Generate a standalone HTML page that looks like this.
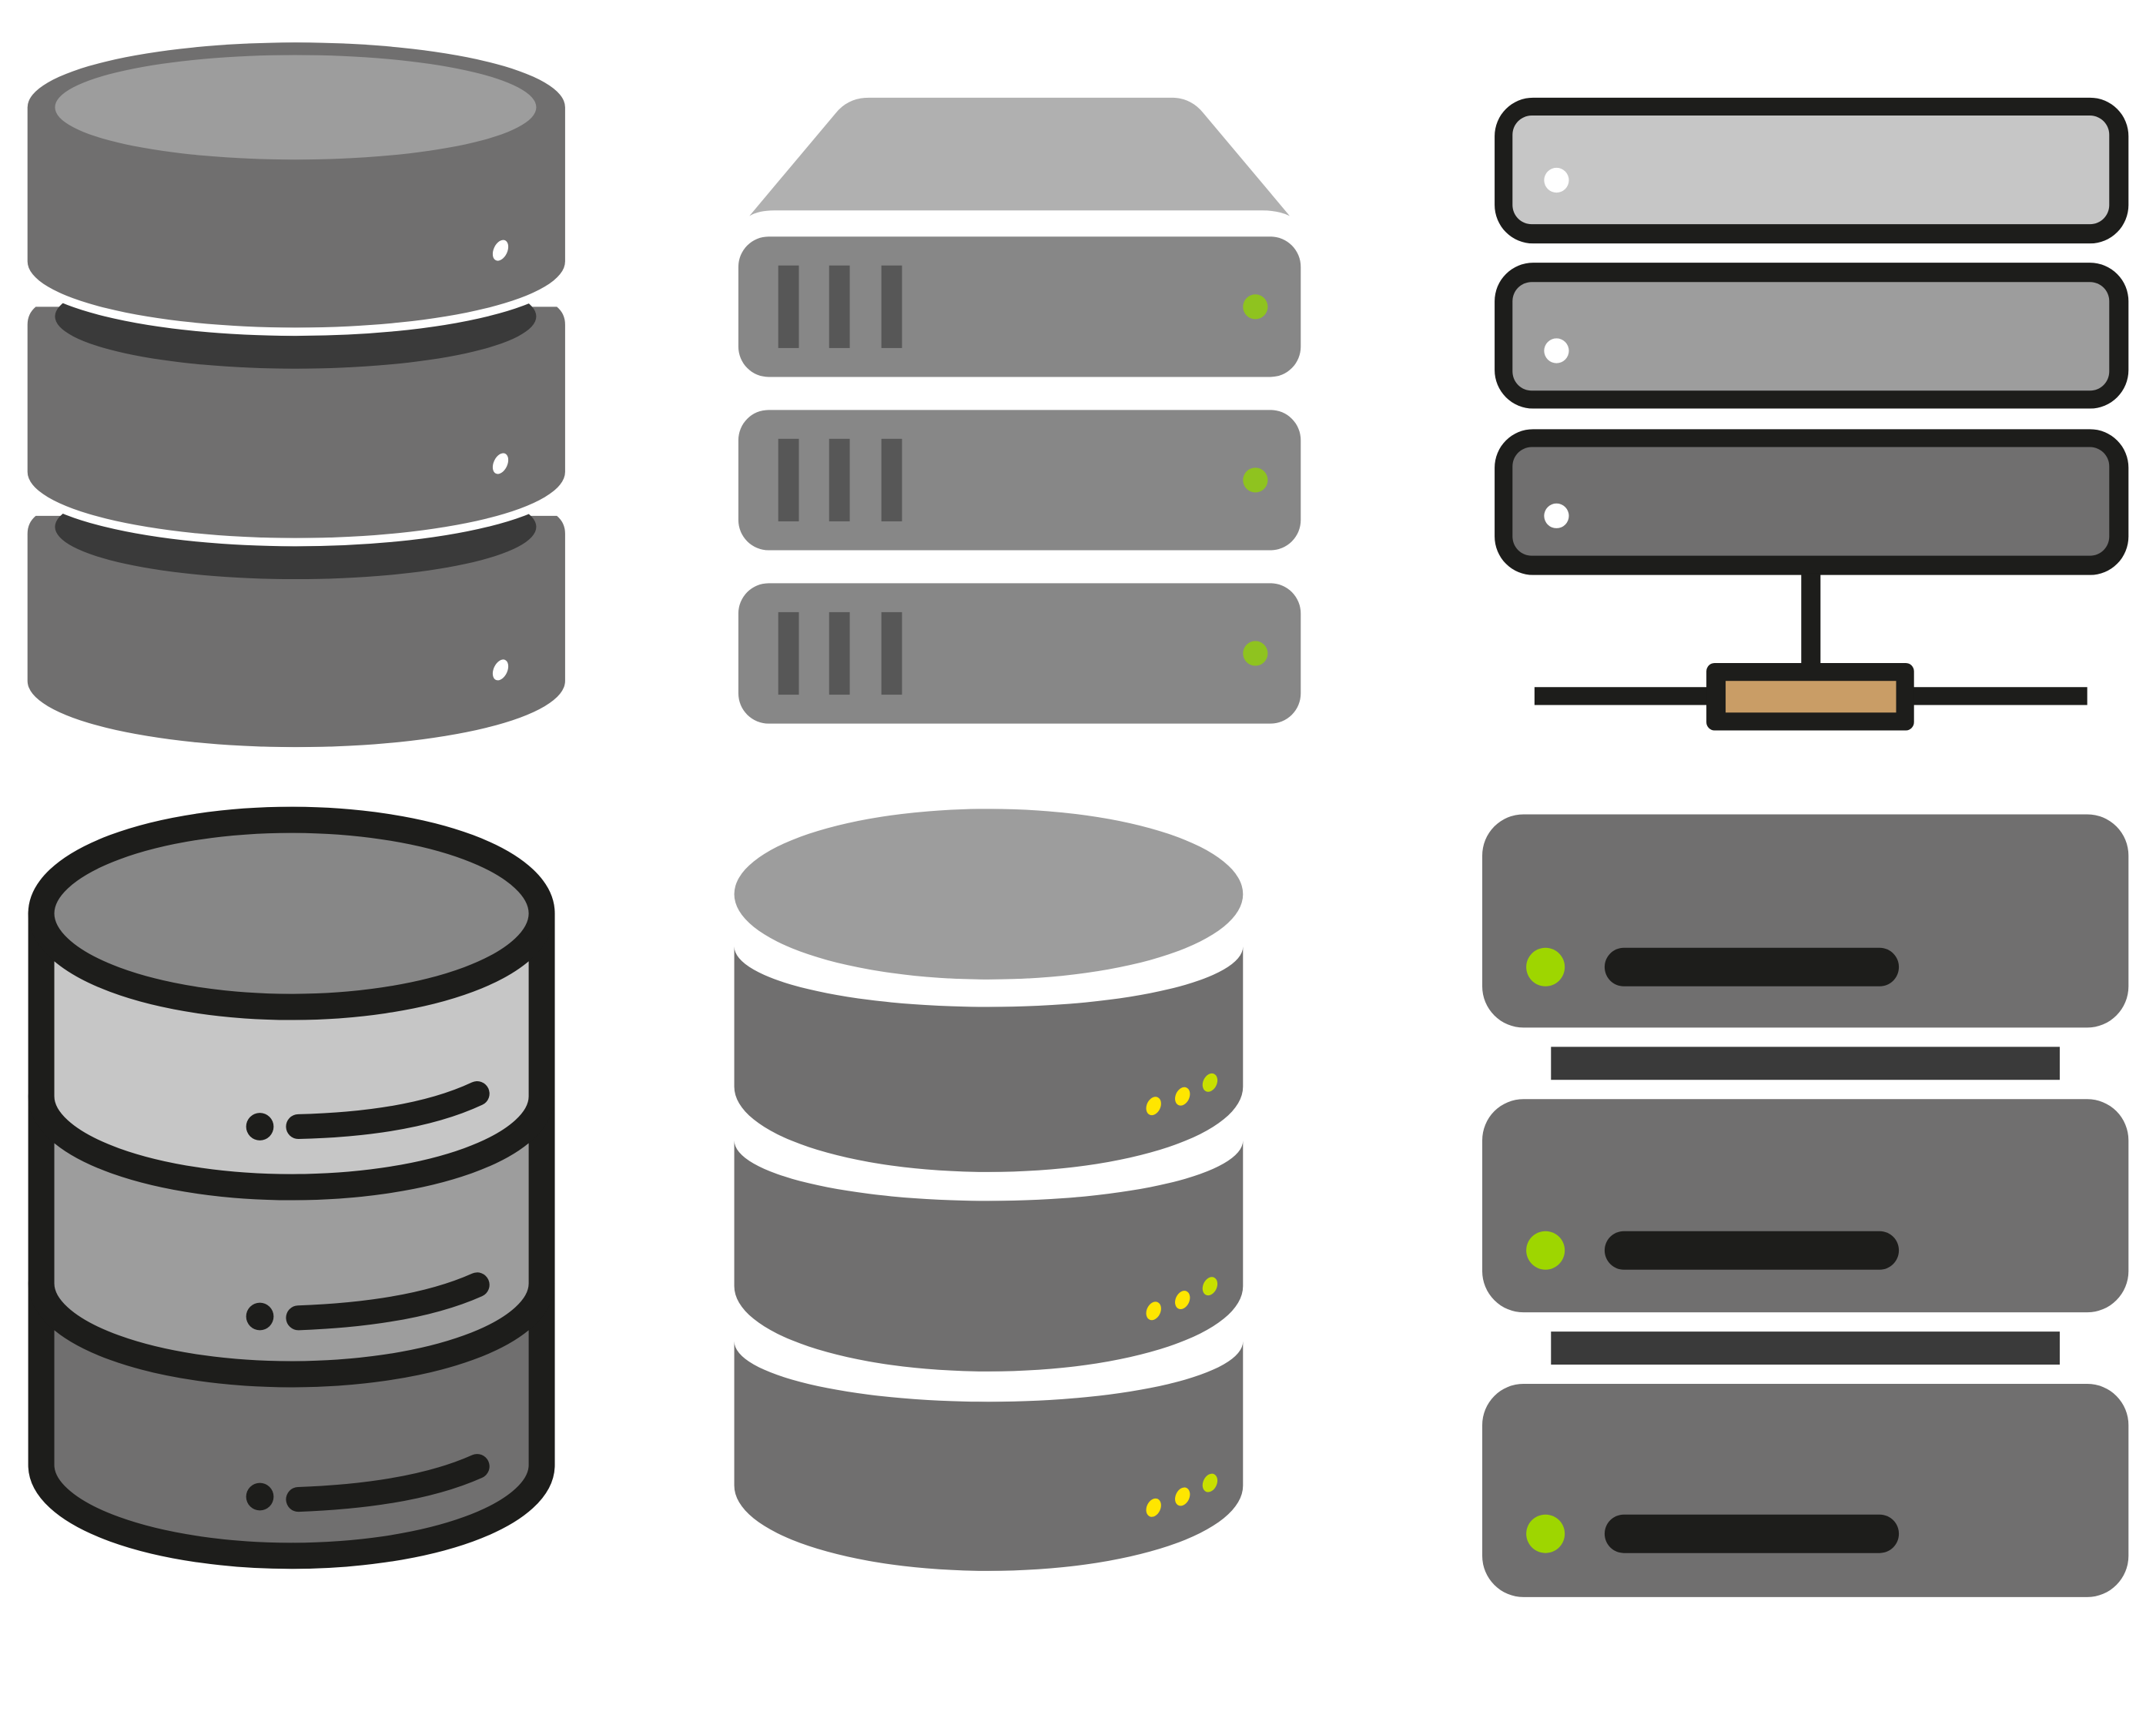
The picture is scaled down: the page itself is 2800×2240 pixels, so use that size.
<!DOCTYPE html>
<html><head><meta charset="utf-8"><style>
html,body{margin:0;padding:0;background:#fff;}
svg{display:block;}
</style></head><body>
<svg width="2800" height="2240" viewBox="0 0 1568 1254" preserveAspectRatio="none" xmlns="http://www.w3.org/2000/svg">
<rect width="1568" height="1254" fill="#fff"/>
<!-- Top-left stacked DB -->
<path d="M20,388 Q20,380 26,375 L405,375 Q411,380 411,388 L411,495 A195,48 0 0 1 20,495 Z" fill="#706f6f"/>
<ellipse cx="215" cy="383" rx="175" ry="38" fill="#3a3a3a"/>
<path d="M20,236 Q20,228 26,223 L405,223 Q411,228 411,236 L411,343 A195,48 0 0 1 20,343 Z" fill="#706f6f" stroke="#fff" stroke-width="12" paint-order="stroke"/>
<ellipse cx="215" cy="230" rx="175" ry="38" fill="#3a3a3a"/>
<path d="M20,78 L20,190 A195,48 0 0 0 411,190 L411,78 A195,47 0 0 0 20,78 Z" fill="#706f6f" stroke="#fff" stroke-width="12" paint-order="stroke"/>
<ellipse cx="215" cy="78" rx="175" ry="38" fill="#9d9d9d"/>
<g fill="#fff">
  <ellipse cx="364" cy="182" rx="5" ry="8" transform="rotate(25 364 182)"/>
  <ellipse cx="364" cy="337" rx="5" ry="8" transform="rotate(25 364 337)"/>
  <ellipse cx="364" cy="487" rx="5" ry="8" transform="rotate(25 364 487)"/>
</g>
<!-- Top-middle rack -->
<path d="M545,157 L608,82 Q617,71 632,71 L852,71 Q866,71 875,82 L938,157 Q930,153 918,153 L563,153 Q552,153 545,157 Z" fill="#b0b0b0"/>
<g>
  <rect x="537" y="172" width="409" height="102" rx="22" fill="#878787"/>
  <rect x="566" y="193" width="15" height="60" fill="#575757"/><rect x="603" y="193" width="15" height="60" fill="#575757"/><rect x="641" y="193" width="15" height="60" fill="#575757"/>
  <circle cx="913" cy="223" r="9" fill="#8fc31f"/>
  <rect x="537" y="298" width="409" height="102" rx="22" fill="#878787"/>
  <rect x="566" y="319" width="15" height="60" fill="#575757"/><rect x="603" y="319" width="15" height="60" fill="#575757"/><rect x="641" y="319" width="15" height="60" fill="#575757"/>
  <circle cx="913" cy="349" r="9" fill="#8fc31f"/>
  <rect x="537" y="424" width="409" height="102" rx="22" fill="#878787"/>
  <rect x="566" y="445" width="15" height="60" fill="#575757"/><rect x="603" y="445" width="15" height="60" fill="#575757"/><rect x="641" y="445" width="15" height="60" fill="#575757"/>
  <circle cx="913" cy="475" r="9" fill="#8fc31f"/>
</g>
<!-- Top-right networked servers -->
<rect x="1087" y="71" width="461" height="106" rx="28" fill="#1d1d1b"/>
<rect x="1100" y="84" width="434" height="79" rx="14" fill="#c6c6c6"/>
<rect x="1087" y="191" width="461" height="106" rx="28" fill="#1d1d1b"/>
<rect x="1100" y="205" width="434" height="79" rx="14" fill="#9d9d9d"/>
<rect x="1087" y="312" width="461" height="106" rx="28" fill="#1d1d1b"/>
<rect x="1100" y="325" width="434" height="79" rx="14" fill="#706f6f"/>
<circle cx="1132" cy="131" r="9" fill="#fff"/>
<circle cx="1132" cy="255" r="9" fill="#fff"/>
<circle cx="1132" cy="375" r="9" fill="#fff"/>
<line x1="1317" y1="417" x2="1317" y2="485" stroke="#1d1d1b" stroke-width="14"/>
<line x1="1116" y1="506" x2="1518" y2="506" stroke="#1d1d1b" stroke-width="13"/>
<rect x="1241" y="482" width="151" height="49" rx="6" fill="#1d1d1b"/>
<rect x="1255" y="495" width="124" height="23" fill="#c99d66"/>
<!-- Bottom-left outlined DB -->
<g stroke="#1d1d1b" stroke-width="19" stroke-linejoin="round">
  <path d="M30,933 L30,1065 A182,66 0 0 0 394,1065 L394,933 Z" fill="#706f6f"/>
  <path d="M30,797 L30,933 A182,66 0 0 0 394,933 L394,797 Z" fill="#9d9d9d"/>
  <path d="M30,664 L30,797 A182,66 0 0 0 394,797 L394,664 Z" fill="#c6c6c6"/>
  <ellipse cx="212" cy="664" rx="182" ry="68" fill="#878787"/>
</g>
<g fill="#1d1d1b"><circle cx="189" cy="819" r="10"/><circle cx="189" cy="957" r="10"/><circle cx="189" cy="1088" r="10"/></g>
<g stroke="#1d1d1b" stroke-width="18" fill="none" stroke-linecap="round">
  <path d="M217,819 Q300,817 347,795"/>
  <path d="M217,958 Q300,955 347,934"/>
  <path d="M217,1090 Q300,1087 347,1066"/>
</g>
<!-- Bottom-middle DB -->
<ellipse cx="719" cy="650" rx="185" ry="62" fill="#9d9d9d"/>
<path d="M534,688 A185,44 0 0 0 904,688 L904,790 A185,62 0 0 1 534,790 Z" fill="#706f6f"/>
<path d="M534,829 A185,44 0 0 0 904,829 L904,935 A185,62 0 0 1 534,935 Z" fill="#706f6f"/>
<path d="M534,975 A185,44 0 0 0 904,975 L904,1080 A185,62 0 0 1 534,1080 Z" fill="#706f6f"/>
<g fill="#ffe600">
  <ellipse cx="839" cy="804" rx="5" ry="7" transform="rotate(25 839 804)"/>
  <ellipse cx="860" cy="797" rx="5" ry="7" transform="rotate(25 860 797)"/>
  <ellipse cx="880" cy="787" rx="5" ry="7" transform="rotate(25 880 787)" fill="#c8e000"/>
  <ellipse cx="839" cy="953" rx="5" ry="7" transform="rotate(25 839 953)"/>
  <ellipse cx="860" cy="945" rx="5" ry="7" transform="rotate(25 860 945)"/>
  <ellipse cx="880" cy="935" rx="5" ry="7" transform="rotate(25 880 935)" fill="#c8e000"/>
  <ellipse cx="839" cy="1096" rx="5" ry="7" transform="rotate(25 839 1096)"/>
  <ellipse cx="860" cy="1088" rx="5" ry="7" transform="rotate(25 860 1088)"/>
  <ellipse cx="880" cy="1078" rx="5" ry="7" transform="rotate(25 880 1078)" fill="#c8e000"/>
</g>
<!-- Bottom-right servers -->
<rect x="1078" y="592" width="470" height="155" rx="30" fill="#706f6f"/>
<rect x="1078" y="799" width="470" height="155" rx="30" fill="#706f6f"/>
<rect x="1078" y="1006" width="470" height="155" rx="30" fill="#706f6f"/>
<rect x="1128" y="761" width="370" height="24" fill="#3a3a3a"/>
<rect x="1128" y="968" width="370" height="24" fill="#3a3a3a"/>
<g fill="#9ed600"><circle cx="1124" cy="703" r="14"/><circle cx="1124" cy="909" r="14"/><circle cx="1124" cy="1115" r="14"/></g>
<g stroke="#1d1d1b" stroke-width="28" stroke-linecap="round">
  <line x1="1181" y1="703" x2="1367" y2="703"/>
  <line x1="1181" y1="909" x2="1367" y2="909"/>
  <line x1="1181" y1="1115" x2="1367" y2="1115"/>
</g>
</svg>
</body></html>
